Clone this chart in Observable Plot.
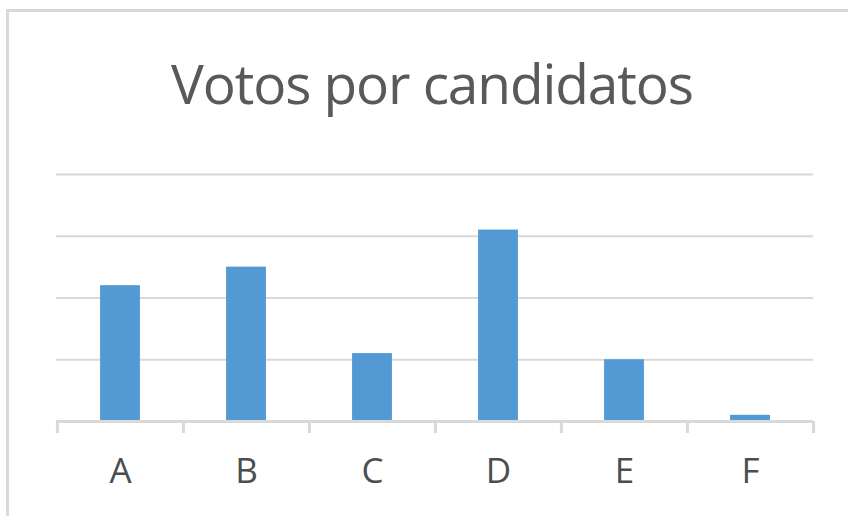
<!DOCTYPE html>
<html>
<head>
<meta charset="utf-8">
<script src="https://cdn.jsdelivr.net/npm/d3@7"></script>
<script src="https://cdn.jsdelivr.net/npm/@observablehq/plot@0.6"></script>
<style>
  html, body { margin: 0; padding: 0; background: #fff; }
  #wrap { position: relative; width: 848px; height: 516px; overflow: hidden; background: #fff; }
  #frame { position: absolute; left: 6px; top: 9px; width: 900px; height: 600px;
           border-left: 3px solid #d9d9d9; border-top: 3px solid #d9d9d9; box-sizing: border-box; }
  #title { position: absolute; left: 8px; width: 848px; top: 55px; text-align: center;
           font-family: "Open Sans", sans-serif; font-size: 55px; line-height: 1; color: #595959;
           letter-spacing: -1.1px; white-space: nowrap; }
  #chart { position: absolute; left: 0; top: 140px; }
</style>
</head>
<body>
<div id="wrap">
  <div id="frame"></div>
  <div id="title">Votos por candidatos</div>
  <div id="chart"></div>
</div>
<script>
const categories = ["A", "B", "C", "D", "E", "F"];
const votos = [22, 25, 11, 31, 10, 1];
const yTicks = [0, 10, 20, 30, 40];

const data = categories.map((c, i) => ({candidato: c, votos: votos[i]}));

const W = 848, H = 376, mL = 56, mR = 35, mT = 34, mB = 95;
const step = (W - mL - mR) / categories.length;
const barW = 40;
const inset = (step - barW) / 2;

const chart = Plot.plot({
  width: W,
  height: H,
  marginLeft: mL,
  marginRight: mR,
  marginTop: mT,
  marginBottom: mB,
  style: {fontFamily: "'Open Sans', sans-serif", background: "transparent"},
  x: {domain: categories, padding: 0, label: null},
  y: {domain: [0, 40], label: null},
  marks: [
    Plot.gridY(yTicks.slice(1), {stroke: "#d9d9d9", strokeOpacity: 1, strokeWidth: 2.2}),
    Plot.barY(data, {x: "candidato", y: "votos", fill: "#5399d4", insetLeft: inset, insetRight: inset}),
    Plot.ruleY([0], {stroke: "#d9d9d9", strokeWidth: 3}),
    Plot.axisX(categories, {dx: -step / 2, tickSize: 12, text: null, label: null, stroke: "#d9d9d9", strokeWidth: 3}),
    Plot.axisX([categories[categories.length - 1]], {dx: step / 2, tickSize: 12, text: null, label: null, stroke: "#d9d9d9", strokeWidth: 3}),
    Plot.axisX(categories, {tickSize: 0, tickPadding: 37, fontSize: 35, fill: "#4d4d4d", label: null}),
    Plot.axisY({ticks: [], label: null})
  ]
});
document.getElementById("chart").appendChild(chart);
</script>
</body>
</html>
